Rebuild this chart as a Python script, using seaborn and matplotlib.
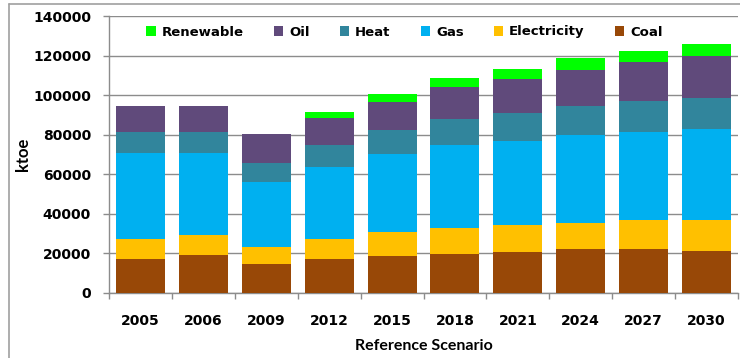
import matplotlib
matplotlib.use("Agg")
import matplotlib.pyplot as plt
from matplotlib.lines import Line2D
from matplotlib.patches import Patch
import numpy as np
import pandas as pd
import seaborn as sns

# Final energy consumption by carrier, Reference Scenario (ktoe)
years = ["2005", "2006", "2009", "2012", "2015", "2018", "2021", "2024", "2027", "2030"]
coal = [17200, 19200, 14500, 17200, 18500, 19900, 20700, 22100, 22100, 21200]
electricity = [10100, 10100, 8700, 10100, 12300, 12800, 13500, 13400, 14800, 15700]
gas = [43600, 41600, 32700, 36200, 39400, 42200, 42700, 44300, 44700, 46100]
heat = [10700, 10700, 9600, 11400, 12300, 12800, 14300, 14800, 15200, 15600]
oil = [13000, 13000, 14800, 13400, 13900, 16300, 16800, 18300, 20200, 21000]
renewable = [0, 0, 0, 3400, 4300, 4700, 5400, 6100, 5200, 6100]

series = ["Coal", "Electricity", "Gas", "Heat", "Oil", "Renewable"]
colors = {
    "Coal": "#984807",
    "Electricity": "#FFC000",
    "Gas": "#00B0F0",
    "Heat": "#31859C",
    "Oil": "#604A7B",
    "Renewable": "#00FF00",
}

df = pd.DataFrame({"Year": years, "Coal": coal, "Electricity": electricity,
                   "Gas": gas, "Heat": heat, "Oil": oil, "Renewable": renewable})
cum = df[series].cumsum(axis=1)
cum["Year"] = df["Year"]

sns.set_style("white")
plt.rcParams["font.family"] = ["DejaVu Sans"]
plt.rcParams["text.color"] = "black"
plt.rcParams["axes.labelcolor"] = "black"
plt.rcParams["xtick.color"] = "black"
plt.rcParams["ytick.color"] = "black"

fig = plt.figure(figsize=(7.4, 3.58), dpi=100)
W, H = 740, 358
ax = fig.add_axes([109 / W, (H - 293) / H, 629 / W, 277 / H])

# Stacked bars: draw cumulative totals from the top series down
for name in reversed(series):
    sns.barplot(data=cum, x="Year", y=name, order=years, color=colors[name],
                width=0.78, saturation=1, ax=ax, zorder=3, linewidth=0)

grid_c = "#8C8C8C"
ax.set_ylim(0, 140000)
ax.set_xlim(-0.5, len(years) - 0.5)
ax.set_yticks(np.arange(0, 140001, 20000))
ax.yaxis.grid(True, color=grid_c, linewidth=1.0, zorder=0)
ax.set_axisbelow(True)
for s in ["top", "right"]:
    ax.spines[s].set_visible(False)
for s in ["left", "bottom"]:
    ax.spines[s].set_color(grid_c)
    ax.spines[s].set_linewidth(1.0)

ax.tick_params(axis="y", which="major", length=4.5, width=1, color=grid_c,
               labelcolor="black", direction="out", pad=8.5, labelsize=10, left=True)
ax.tick_params(axis="x", which="major", length=0, pad=15, labelsize=10,
               labelcolor="black")
ax.set_xticks(np.arange(-0.5, len(years)), minor=True)
ax.tick_params(axis="x", which="minor", length=4.5, width=1, color=grid_c,
               direction="out", bottom=True)
for lab in ax.get_xticklabels() + ax.get_yticklabels():
    lab.set_fontweight("bold")

ax.set_ylabel("ktoe", fontsize=12, fontweight="bold", family="Lato", color="black")
ax.set_xlabel("Reference Scenario", fontsize=11.5, fontweight="bold",
              family="Lato", color="black", labelpad=8)
ax.yaxis.set_label_coords(-(109 - 31) / 629, 0.5)

handles = [Patch(facecolor=colors[n], edgecolor="none", label=n)
           for n in ["Renewable", "Oil", "Heat", "Gas", "Electricity", "Coal"]]
ax.legend(handles=handles, loc="center", ncol=6, frameon=False,
          bbox_to_anchor=((404.5 - 109) / 629, (293 - 32) / 277),
          prop={"weight": "bold", "size": 9.5}, labelcolor="black",
          handlelength=0.7, handleheight=0.7, handletextpad=0.45,
          columnspacing=2.3, borderpad=0)

# Outer chart frame
fig.add_artist(Line2D([9 / W, 1], [1 - 4 / H, 1 - 4 / H], color="#A0A0A0",
                      linewidth=1.2, transform=fig.transFigure))
fig.add_artist(Line2D([9 / W, 9 / W], [0, 1 - 4 / H], color="#A0A0A0",
                      linewidth=1.2, transform=fig.transFigure))

fig.savefig("out.png", dpi=100)
